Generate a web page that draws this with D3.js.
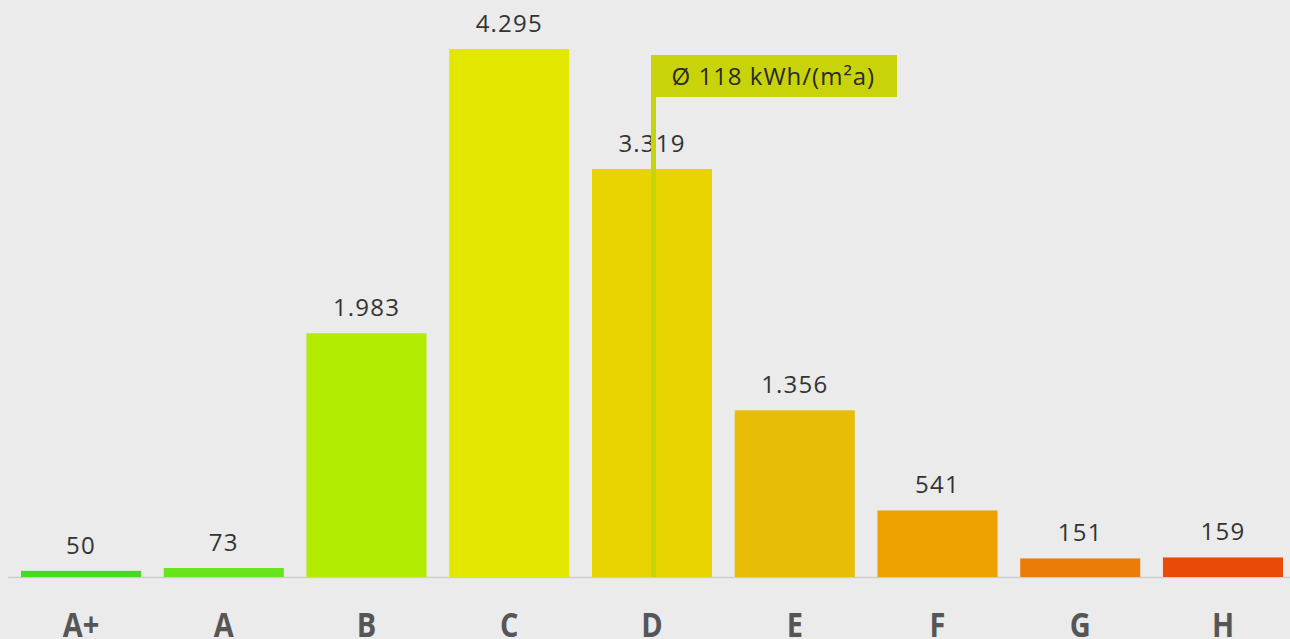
<!DOCTYPE html>
<html>
<head>
<meta charset="utf-8">
<script src="https://cdn.jsdelivr.net/npm/d3@7"></script>
<style>
  html, body { margin: 0; padding: 0; background: #ebebeb; }
  svg { display: block; }
</style>
</head>
<body>
<svg id="chart" width="1290" height="639"></svg>
<script>
// Energy efficiency classes and number of buildings per class
const classes = ["A+", "A", "B", "C", "D", "E", "F", "G", "H"];
const counts = [50, 73, 1983, 4295, 3319, 1356, 541, 151, 159];
const valueLabels = ["50", "73", "1.983", "4.295", "3.319", "1.356", "541", "151", "159"];
const barColors = ["#42dc20", "#68e41c", "#b2ec00", "#e2e800", "#e8d400", "#e8bd08", "#eda100", "#eb7c07", "#ea4a05"];
const averageClass = "D";
const averageLabel = "Ø 118 kWh/(m²a)";

const svg = d3.select("#chart");
const W = 1290, H = 639;

const x = d3.scaleBand()
  .domain(classes)
  .range([21, 1283])
  .paddingInner(0.159)
  .paddingOuter(0);

const y = d3.scaleLinear()
  .domain([0, 4295])
  .range([577, 49]);

// baseline
svg.append("line")
  .attr("x1", 8).attr("x2", W)
  .attr("y1", y(0) + 0.5).attr("y2", y(0) + 0.5)
  .attr("stroke", "#cdcdcd")
  .attr("stroke-width", 1.5);

// bars
svg.append("g").selectAll("rect")
  .data(classes)
  .join("rect")
  .attr("x", d => x(d))
  .attr("width", x.bandwidth())
  .attr("y", (d, i) => y(counts[i]))
  .attr("height", (d, i) => y(0) - y(counts[i]))
  .attr("fill", (d, i) => barColors[i]);

// value labels
svg.append("g").selectAll("text")
  .data(classes)
  .join("text")
  .attr("x", d => x(d) + x.bandwidth() / 2)
  .attr("y", (d, i) => y(counts[i]) - 17)
  .attr("text-anchor", "middle")
  .attr("font-family", "'Open Sans', sans-serif")
  .attr("font-size", 24)
  .attr("letter-spacing", 1.2)
  .attr("fill", "#333")
  .text((d, i) => valueLabels[i]);

// class labels along the bottom
const xAxis = d3.axisBottom(x).tickSize(0).tickPadding(0);
const axisG = svg.append("g").call(xAxis);
axisG.select(".domain").remove();
axisG.selectAll("text")
  .attr("y", 0)
  .attr("dy", 0)
  .attr("transform", "translate(0,637) scale(1,1.18)")
  .attr("font-family", "'Open Sans', sans-serif")
  .attr("font-weight", "bold")
  .attr("font-size", 29)
  .attr("fill", "#565656");

// average marker
const avgX = x(averageClass) + x.bandwidth() / 2 + 1.5;
svg.append("rect")
  .attr("x", avgX - 2.5)
  .attr("y", 63)
  .attr("width", 5)
  .attr("height", y(0) - 63)
  .attr("fill", "#c6d40c");

svg.append("rect")
  .attr("x", avgX - 2.5)
  .attr("y", 55)
  .attr("width", 246)
  .attr("height", 42)
  .attr("fill", "#c8d30a");

svg.append("text")
  .attr("x", avgX + 18)
  .attr("y", 85)
  .attr("font-family", "'Open Sans', sans-serif")
  .attr("font-size", 24)
  .attr("letter-spacing", 1)
  .attr("fill", "#2a2a2a")
  .text(averageLabel);
</script>
</body>
</html>
